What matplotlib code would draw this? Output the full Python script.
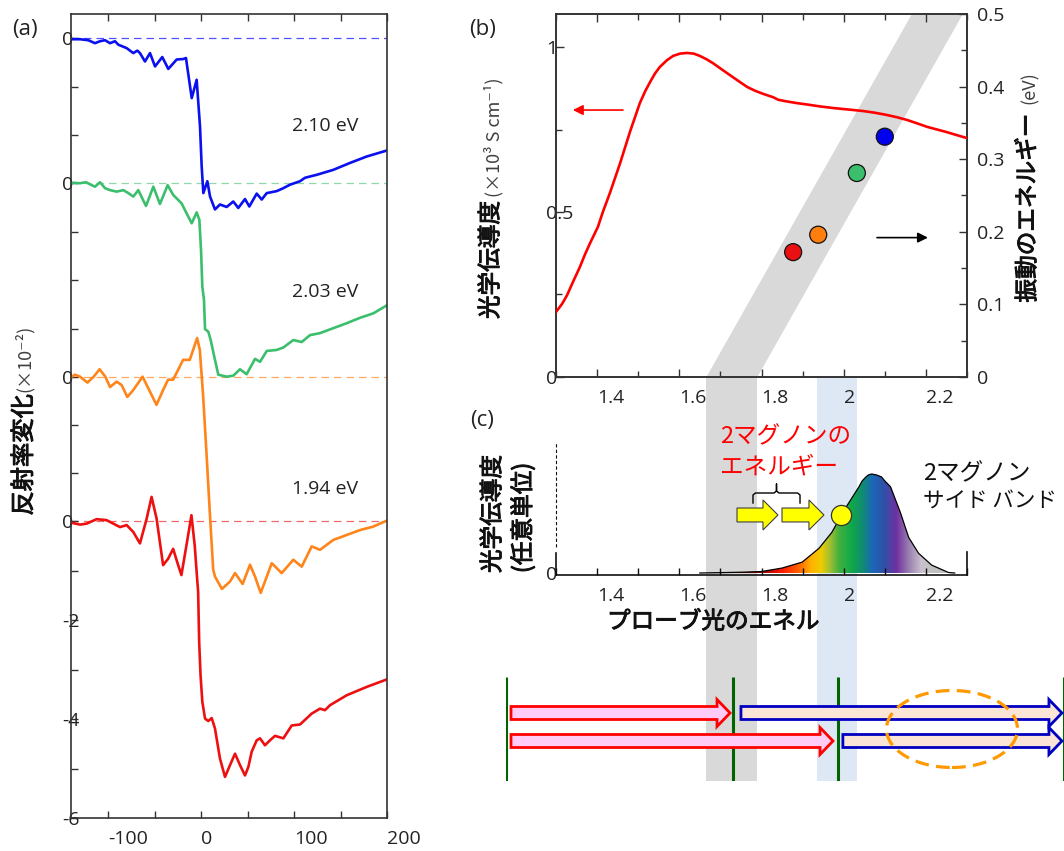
import numpy as np
import matplotlib
matplotlib.use('Agg')
import matplotlib.pyplot as plt
import matplotlib.patheffects as pe
from matplotlib.patches import FancyArrow, Ellipse, Polygon
from matplotlib.colors import LinearSegmentedColormap
from matplotlib.ticker import MultipleLocator

# ---------------- data: panel (a) time traces ----------------
blue_t = [-140, -130.3, -121.4, -114.2, -108.8, -103.4, -98, -92.7, -89.1, -80.1, -73, -68.6, -65.8, -60.4,
          -55, -49.6, -41.8, -35.3, -26.3, -19.2, -16.3, -10.1, -4.8, -1.2, 0.6, 2.4, 6.7, 9.6, 14.9, 20.3,
          27.5, 34.6, 40, 47.2, 51.9, 59.8, 65.2, 70.6, 81.3, 88.5, 95.6, 106.4, 111.8, 124.4, 142.2,
          160.2, 178.2, 199.7]
blue_v = [-0.02, -0.02, -0.04, -0.1, -0.06, -0.04, -0.1, -0.06, -0.13, -0.2, -0.3, -0.25, -0.3, -0.47,
          -0.3, -0.57, -0.38, -0.62, -0.43, -0.42, -0.4, -1.21, -0.84, -1.78, -2.59, -3.13, -2.89, -3.2,
          -3.46, -3.36, -3.41, -3.3, -3.43, -3.25, -3.4, -3.14, -3.26, -3.13, -3.09, -3.03, -2.96, -2.89,
          -2.82, -2.76, -2.66, -2.52, -2.39, -2.27]

green_t = [-140, -130.3, -123.8, -117.7, -114.2, -108.8, -103.4, -98, -90.9, -83.7, -78.3, -73, -67.6,
           -59.3, -51.4, -44.3, -36, -29.9, -20.9, -15.6, -10.1, -4.8, -1.9, -0.1, 1.3, 3.1, 4.2, 7.7,
           10.3, 14.9, 18.5, 27.5, 34.6, 41.8, 49, 58, 63.4, 70.6, 81.3, 88.5, 99.2, 108.2, 117.2, 127.9,
           142.2, 156.6, 171, 185.3, 199.7]
green_v = [0, -0.01, 0.01, -0.05, -0.08, 0.01, -0.11, -0.15, -0.18, -0.15, -0.21, -0.28, -0.15, -0.47,
           -0.08, -0.43, -0.05, -0.25, -0.42, -0.62, -0.82, -0.6, -0.75, -1.36, -2.1, -2.37, -2.96, -3.01,
           -3.18, -3.58, -3.88, -3.92, -3.9, -3.77, -3.87, -3.56, -3.62, -3.4, -3.38, -3.33, -3.18, -3.22,
           -3.08, -3.04, -2.94, -2.84, -2.73, -2.64, -2.48]

orange_t = [-140, -135.7, -130.3, -122.3, -115.6, -109.2, -103.1, -98, -90.9, -85.5, -79.4, -73, -63,
            -55.1, -48, -40.9, -35.5, -30.1, -24.7, -19.4, -12.2, -8.6, -4.3, -1.4, 2.2, 5.8, 9.4, 13,
            14.9, 22.4, 31.1, 36.5, 44.7, 52.6, 58, 64.1, 76, 86.7, 99.2, 108.2, 119, 127.9, 142.2, 156.6,
            171, 185.3, 199.7]
orange_v = [0, 0.05, 0.01, -0.11, 0.01, 0.16, 0.01, -0.2, -0.09, -0.16, -0.4, -0.26, 0.01, -0.29, -0.56,
            -0.26, -0.05, -0.05, 0.15, 0.35, 0.35, 0.55, 0.79, 0.55, -0.39, -1.54, -2.75, -3.89, -4.03,
            -4.28, -4.13, -3.96, -4.18, -3.79, -4.03, -4.36, -3.76, -3.96, -3.69, -3.83, -3.42, -3.49,
            -3.29, -3.19, -3.09, -3.02, -2.9]

red_t = [-140, -130.3, -123.1, -112.4, -101.7, -94.5, -87.3, -80.1, -73, -65.8, -58.6, -53.3, -47.9,
         -40.9, -35.5, -30.1, -24.7, -21.2, -15.8, -10.4, -6.9, -4.3, -3.2, -2.1, -0.6, 1.3, 4.2, 7.7,
         11.4, 14.9, 20.3, 25.7, 31.1, 36.5, 41.8, 47.2, 50.8, 54.4, 59.8, 63.4, 68.7, 74.1, 79.5, 88.5,
         97.5, 106.4, 119, 127.9, 133.3, 138.7, 156.6, 178.2, 199.7]
red_v = [-0.03, -0.07, -0.05, 0.04, 0.02, -0.05, -0.12, -0.08, -0.22, -0.45, 0.05, 0.49, 0.05, -0.89,
         -0.76, -0.56, -0.89, -1.09, -0.49, 0.12, -0.49, -1.16, -1.43, -2.44, -3.12, -3.65, -3.99, -4.04,
         -3.98, -4.19, -4.8, -5.17, -4.93, -4.7, -4.93, -5.14, -4.97, -4.66, -4.43, -4.39, -4.53, -4.43,
         -4.34, -4.39, -4.13, -4.11, -3.89, -3.79, -3.82, -3.72, -3.52, -3.35, -3.2]

trace_offsets = [9.76, 6.84, 2.91, 0.0]          # blue, green, orange, red
trace_labels = ['2.10 eV', '2.03 eV', '1.94 eV']
a_yticks = [-6, -5, -4, -3, -2, -1, 0, 0.97, 1.94, 2.91, 3.89, 4.87, 5.85, 6.84, 7.81, 8.78, 9.76]
a_ylabels = ['-6', '', '-4', '', '-2', '', '0', '', '', '0', '', '', '', '0', '', '', '0']
a_xticks = [-100, 0, 100, 200]
a_xlabels = ['-100', '0', '100', '200']

# ---------------- data: panel (b) ----------------
cond_x = [1.300, 1.315, 1.327, 1.342, 1.358, 1.370, 1.383, 1.402, 1.414, 1.431, 1.456, 1.480, 1.504,
          1.517, 1.529, 1.541, 1.553, 1.570, 1.585, 1.602, 1.619, 1.635, 1.650, 1.666, 1.682, 1.700,
          1.723, 1.745, 1.765, 1.785, 1.804, 1.828, 1.841, 1.862, 1.886, 1.915, 1.942, 1.975, 2.008,
          2.047, 2.075, 2.105, 2.130, 2.154, 2.180, 2.203, 2.227, 2.251, 2.275, 2.300]
cond_y = [0.197, 0.222, 0.248, 0.290, 0.333, 0.370, 0.406, 0.455, 0.50, 0.557, 0.648, 0.743, 0.83,
          0.866, 0.894, 0.920, 0.94, 0.960, 0.973, 0.980, 0.982, 0.980, 0.973, 0.963, 0.951, 0.935,
          0.915, 0.896, 0.879, 0.867, 0.858, 0.848, 0.84, 0.835, 0.830, 0.825, 0.820, 0.815, 0.811,
          0.806, 0.801, 0.794, 0.787, 0.779, 0.768, 0.758, 0.750, 0.742, 0.733, 0.724]
probe_E = [1.877, 1.938, 2.032, 2.100]
osc_E = [0.172, 0.196, 0.281, 0.331]
dot_colors = ['#e81010', '#ff7f0e', '#3cbf6c', '#0000ee']
band_lo, band_hi = 1.666, 1.790           # gray band (probe - oscillation energy)
blue_lo, blue_hi = 1.935, 2.032           # light-blue strip
b_xticks = [1.4, 1.6, 1.8, 2.0, 2.2]
b_xlabels = ['1.4', '1.6', '1.8', '2', '2.2']
b_yticks = [0, 0.5, 1.0]
b_ylabels = ['0', '0.5', '1']
b_y2ticks = [0, 0.1, 0.2, 0.3, 0.4, 0.5]
b_y2labels = ['0', '0.1', '0.2', '0.3', '0.4', '0.5']

# ---------------- data: panel (c) ----------------
spec_x = [1.65, 1.70, 1.75, 1.80, 1.85, 1.899, 1.94, 1.971, 2.005, 2.037, 2.045, 2.054, 2.06, 2.068,
          2.08, 2.092, 2.10, 2.114, 2.138, 2.158, 2.182, 2.214, 2.255, 2.27]
spec_y = [0.0, 0.004, 0.008, 0.015, 0.05, 0.11, 0.25, 0.41, 0.66, 0.87, 0.93, 0.97, 0.99, 1.0, 0.99,
          0.97, 0.93, 0.87, 0.61, 0.36, 0.20, 0.08, 0.005, 0.0]
yarrow_x0 = [1.7404, 1.8499]
yarrow_x1 = [1.8401, 1.9520]
yarrow_y = 0.586
ycircle_x = 1.9934
brace_left, brace_right, brace_bottom, brace_top, brace_tip = 1.7793, 1.8937, 0.707, 0.808, 0.899

# ---------------- data: schematic ----------------
green_lines_E = [1.178, 1.7307, 1.986, 2.535]
red_arrows = [(1.1905, 1.7234, 68), (1.1905, 1.974, 40)]
blue_arrows = [(1.750, 2.531, 68), (1.998, 2.531, 40)]
ellipse_c = (2.2635, 52)
ellipse_wh = (0.3187, 77)

# ---------------- figure ----------------
plt.rcParams['font.family'] = ['Noto Sans CJK JP', 'DejaVu Sans']
plt.rcParams['axes.unicode_minus'] = False
W, H = 1064, 851
fig = plt.figure(figsize=(W / 100, H / 100), dpi=100)
LAT = ['Open Sans', 'DejaVu Sans']

def box(l, t, r, b):
    return [l / W, 1 - b / H, (r - l) / W, (b - t) / H]

def fxy(px, py):
    return px / W, 1 - py / H

SP = '#333333'
TL = '#222222'
TS = 14

def style_spines(ax):
    for s in ax.spines.values():
        s.set_color(SP)
        s.set_linewidth(1.2)

# ---- panel (a)
axa = fig.add_axes(box(71, 14, 387, 818))
axa.set_facecolor('none')
cols = ['#0a10ee', '#3cbf6c', '#ff8419', '#ee1010']
dcols = ['#5050ff', '#8fd8a8', '#ffa860', '#ee6a6a']
for t, v, off, c, dc in zip([blue_t, green_t, orange_t, red_t], [blue_v, green_v, orange_v, red_v],
                            trace_offsets, cols, dcols):
    axa.axhline(off, color=dc, lw=0.9, ls=(0, (6, 4)), zorder=1)
    axa.plot(t, np.array(v) + off, color=c, lw=1.9, zorder=2, solid_joinstyle='round')
axa.set_xlim(-140, 200)
axa.set_ylim(-6, 10.25)
axa.set_xticks(a_xticks, a_xlabels, ha='left')
axa.xaxis.set_minor_locator(MultipleLocator(50))
axa.set_yticks(a_yticks, a_ylabels, ha='left')
axa.tick_params(axis='x', which='both', direction='in', top=True, bottom=True, length=5, width=1,
                pad=8.5, labelsize=TS, color=SP, labelcolor=TL, labelfontfamily=LAT)
axa.tick_params(axis='y', which='both', direction='in', left=True, right=False, length=5, width=1,
                pad=6.5, labelsize=TS, color=SP, labelcolor=TL, labelfontfamily=LAT)
style_spines(axa)
label_y = [7.99, 4.63, 0.65]
for lab, yy in zip(trace_labels, label_y):
    axa.text(98, yy, lab, fontsize=TS, ha='left', va='center', color=TL, family=LAT)

# ---- overlay (strips + schematic), behind everything
axo = fig.add_axes(box(506, 377, 1064, 781))
axo.set_zorder(-1)
e_per_px = (2.3 - 1.3) / (967 - 556)
axo.set_xlim(1.3 + (506 - 556) * e_per_px, 1.3 + (1064 - 556) * e_per_px)
axo.set_ylim(0, 404)
axo.axis('off')
axo.axvspan(band_lo, band_hi, color='#d9d9d9', lw=0, zorder=0)
axo.axvspan(blue_lo, blue_hi, color='#dde8f4', lw=0, zorder=0)
axo.vlines(green_lines_E, 0, 104, color='#006400', lw=2.2, zorder=1)
hl = 13 * e_per_px
for x0, x1, yy in red_arrows:
    axo.add_patch(FancyArrow(x0, yy, x1 - x0, 0, width=13, head_width=27, head_length=hl,
                             length_includes_head=True, fc='#ffccf8', ec='#ff0000', lw=2.0, zorder=2))
for x0, x1, yy in blue_arrows:
    axo.add_patch(FancyArrow(x0, yy, x1 - x0, 0, width=13, head_width=27, head_length=hl,
                             length_includes_head=True, fc='#fbe5d6', ec='#0000c0', lw=2.0, zorder=2))
axo.add_patch(Ellipse(ellipse_c, ellipse_wh[0], ellipse_wh[1], fill=False, ec='#ff9900', lw=2.3,
                      ls=(0, (4.3, 2.3)), zorder=3))

# ---- panel (b)
axb = fig.add_axes(box(556, 14, 967, 377))
ax2 = axb.twinx()
axb.set_zorder(ax2.get_zorder() + 1)
axb.patch.set_visible(False)
bx = np.array([1.2, 2.4])
ax2.fill_between(bx, bx - band_hi, bx - band_lo, color='#d9d9d9', lw=0, zorder=0)
ax2.scatter(probe_E, osc_E, s=150, c=dot_colors, edgecolors='#111111', linewidths=0.9, zorder=3)
axb.plot(cond_x, cond_y, color='#ff0000', lw=1.9, zorder=3, solid_joinstyle='round')
axb.set_xlim(1.3, 2.3)
axb.set_ylim(0, 1.1)
ax2.set_ylim(0, 0.5)
axb.set_xticks(b_xticks, b_xlabels, ha='left')
axb.xaxis.set_minor_locator(MultipleLocator(0.1))
axb.set_yticks(b_yticks, b_ylabels, ha='left')
axb.yaxis.set_minor_locator(MultipleLocator(0.25))
ax2.set_yticks(b_y2ticks, b_y2labels)
ax2.yaxis.set_minor_locator(MultipleLocator(0.05))
axb.tick_params(axis='x', which='both', direction='in', top=True, bottom=True, width=1, pad=8.5,
                labelsize=TS, color=SP, labelcolor=TL, labelfontfamily=LAT)
axb.tick_params(axis='x', which='major', length=6)
axb.tick_params(axis='x', which='minor', length=4)
axb.tick_params(axis='y', which='both', direction='in', left=True, right=False, width=1, pad=7.2,
                labelsize=TS, color=SP, labelcolor=TL, labelfontfamily=LAT)
axb.tick_params(axis='y', which='major', length=6)
axb.tick_params(axis='y', which='minor', length=4)
ax2.tick_params(axis='y', which='both', direction='in', right=True, width=1, pad=7.2,
                labelsize=TS, color=SP, labelcolor=TL, labelfontfamily=LAT)
ax2.tick_params(axis='y', which='major', length=6)
ax2.tick_params(axis='y', which='minor', length=4)
style_spines(axb)
style_spines(ax2)
axb.annotate('', xy=(1.341, 0.809), xytext=(1.463, 0.809),
             arrowprops=dict(arrowstyle='-|>', color='#ff0000', lw=1.2, mutation_scale=15,
                             shrinkA=0, shrinkB=0))
ax2.annotate('', xy=(2.205, 0.192), xytext=(2.081, 0.192),
             arrowprops=dict(arrowstyle='-|>', color='k', lw=1.2, mutation_scale=15,
                             shrinkA=0, shrinkB=0))

# ---- panel (c)
axc = fig.add_axes(box(556, 442, 967, 575))
axc.set_facecolor('none')
stops = [(1.70, '#300000'), (1.80, '#a00000'), (1.85, '#ff1a00'), (1.89, '#ff6000'), (1.92, '#ffb000'),
         (1.945, '#f0cc00'), (1.965, '#a8c030'), (1.99, '#40b040'), (2.02, '#10a848'), (2.05, '#108878'),
         (2.07, '#1a68b8'), (2.10, '#3050a8'), (2.13, '#7030a0'), (2.16, '#9a80b0'), (2.19, '#c8c0cc'),
         (2.22, '#c0c0c0'), (2.30, '#c0c0c0')]
lo, hi = stops[0][0], stops[-1][0]
cm = LinearSegmentedColormap.from_list('rb', [((s - lo) / (hi - lo), c) for s, c in stops])
poly = Polygon(list(zip(spec_x, spec_y)) + [(spec_x[-1], 0), (spec_x[0], 0)], closed=True,
               fc='none', ec='none')
axc.add_patch(poly)
im = axc.imshow(np.linspace(0, 1, 600)[None, :], extent=[lo, hi, 0, 1.05], aspect='auto', cmap=cm,
                zorder=1, interpolation='bilinear')
im.set_clip_path(poly)
axc.plot(spec_x, spec_y, color='k', lw=0.9, zorder=2, solid_joinstyle='round')
for x0, x1 in zip(yarrow_x0, yarrow_x1):
    axc.add_patch(FancyArrow(x0, yarrow_y, x1 - x0, 0, width=0.141, head_width=0.303,
                             head_length=0.0365, length_includes_head=True, fc='#ffff00',
                             ec='#404040', lw=0.8, zorder=3, clip_on=False))
axc.plot([ycircle_x], [yarrow_y], 'o', ms=14.5, mfc='#ffff00', mec='#333333', mew=0.9, zorder=4,
         clip_on=False)
bmid = 0.5 * (brace_left + brace_right)
d = 0.006
axc.plot([brace_left, brace_left, brace_left + d, bmid - d, bmid, bmid, bmid, bmid + d, brace_right - d,
          brace_right, brace_right],
         [brace_bottom, brace_top - 0.02, brace_top, brace_top, brace_top + 0.02, brace_tip,
          brace_top + 0.02, brace_top, brace_top, brace_top - 0.02, brace_bottom],
         color='k', lw=1.0, zorder=3, clip_on=False)
axc.set_xlim(1.3, 2.3)
axc.set_ylim(-0.02, 1.323)
for s in ['top', 'left', 'right']:
    axc.spines[s].set_visible(False)
axc.spines['bottom'].set_color('#111111')
axc.spines['bottom'].set_linewidth(1.2)
axc.axvline(1.3, ymin=0, ymax=0.165, color='#111111', lw=1.2, clip_on=False)
axc.axvline(1.3, ymin=0.21, ymax=1.0, color='#111111', lw=0.8, ls=(0, (3, 2)), clip_on=False)
axc.axvline(2.3, ymin=0, ymax=0.17, color='#111111', lw=1.2, clip_on=False)
axc.set_xticks(b_xticks, b_xlabels, ha='left')
axc.xaxis.set_minor_locator(MultipleLocator(0.1))
axc.set_yticks([0], ['0'], ha='left')
axc.tick_params(axis='x', which='both', direction='in', length=5, width=1, pad=8.5, labelsize=TS,
                color='#111111', labelcolor=TL, labelfontfamily=LAT)
axc.tick_params(axis='y', which='both', length=0, pad=7.2, labelsize=TS, labelcolor=TL,
                labelfontfamily=LAT)

# ---------------- texts ----------------
JP = 17
BOLDISH = [pe.withStroke(linewidth=0.7, foreground='#111111')]
fig.text(*fxy(25, 30), '(a)', ha='center', va='center', fontsize=16, color=TL, family=LAT)
fig.text(*fxy(483, 30), '(b)', ha='center', va='center', fontsize=16, color=TL, family=LAT)
fig.text(*fxy(482, 421), '(c)', ha='center', va='center', fontsize=16, color=TL, family=LAT)

def jlabel(px, py, s, size=JP, rot=90, ha='center'):
    fig.text(*fxy(px, py), s, rotation=rot, ha=ha, va='center', fontsize=size, color='#111111',
             path_effects=BOLDISH)

jlabel(24, 455, '反射率変化', size=17.5)
fig.text(*fxy(24, 358), '(×10⁻²)', rotation=90, ha='center', va='center', fontsize=13, color='#404040')
jlabel(491, 260, '光学伝導度')
fig.text(*fxy(494, 137), '(×10³ S cm⁻¹)', rotation=90, ha='center', va='center', fontsize=13,
         color='#404040')
jlabel(1028, 208, '振動のエネルギー')
fig.text(*fxy(1030, 88), '(eV)', rotation=90, ha='center', va='center', fontsize=13, color='#404040')
jlabel(493, 514, '光学伝導度')
jlabel(523, 518, '(任意単位)')
jlabel(607, 622, 'プローブ光のエネル', rot=0, ha='left')
fig.text(*fxy(720, 437), '2マグノンの', ha='left', va='center', fontsize=JP, color='#ff0000')
fig.text(*fxy(720, 467), 'エネルギー', ha='left', va='center', fontsize=JP, color='#ff0000')
fig.text(*fxy(923, 474), '2マグノン', ha='left', va='center', fontsize=JP, color='#111111')
fig.text(*fxy(923, 502), 'サイド バンド', ha='left', va='center', fontsize=15.5, color='#111111')

fig.savefig('out.png', dpi=100)
